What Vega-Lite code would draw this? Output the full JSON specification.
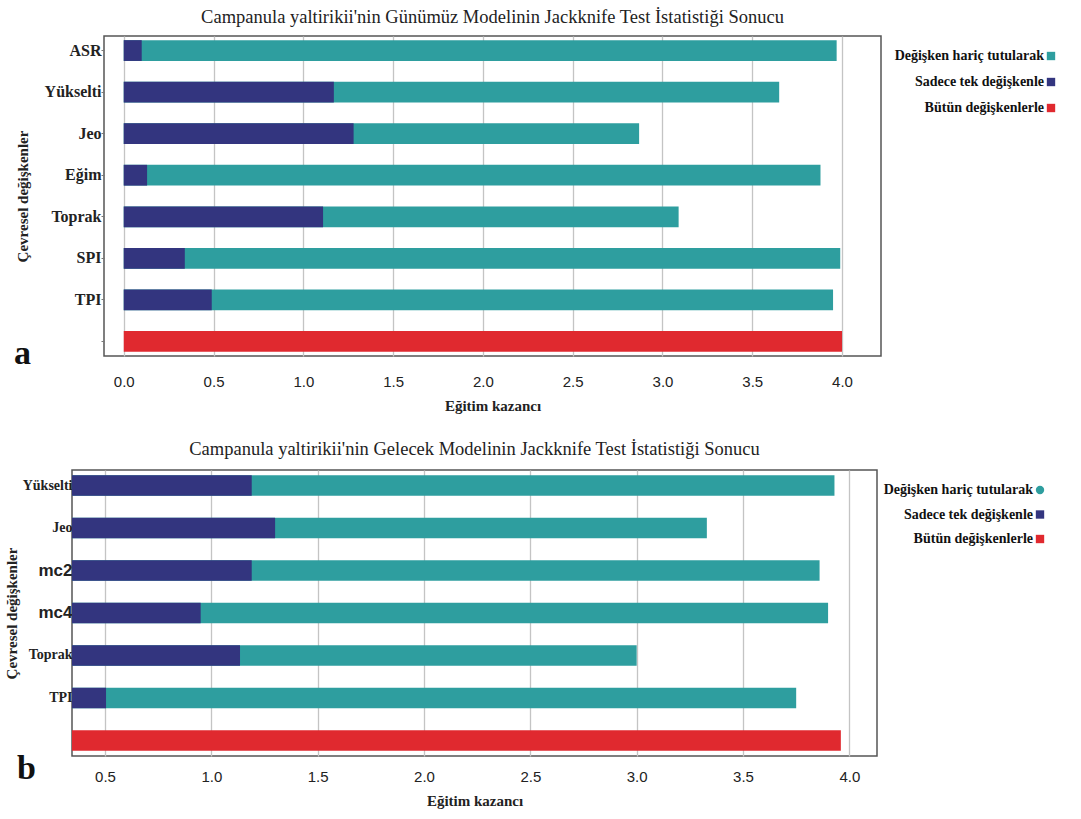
{
  "$schema": "https://vega.github.io/schema/vega-lite/v6.json",
  "background": "white",
  "padding": {"left": 0, "top": 6, "right": 5, "bottom": 5},
  "datasets": {
    "a": [
      {"degisken": "ASR", "seri": "Değişken hariç tutularak", "kazanc": 3.97},
      {"degisken": "Yükselti", "seri": "Değişken hariç tutularak", "kazanc": 3.65},
      {"degisken": "Jeo", "seri": "Değişken hariç tutularak", "kazanc": 2.87},
      {"degisken": "Eğim", "seri": "Değişken hariç tutularak", "kazanc": 3.88},
      {"degisken": "Toprak", "seri": "Değişken hariç tutularak", "kazanc": 3.09},
      {"degisken": "SPI", "seri": "Değişken hariç tutularak", "kazanc": 3.99},
      {"degisken": "TPI", "seri": "Değişken hariç tutularak", "kazanc": 3.95},
      {"degisken": "ASR", "seri": "Sadece tek değişkenle", "kazanc": 0.10},
      {"degisken": "Yükselti", "seri": "Sadece tek değişkenle", "kazanc": 1.17},
      {"degisken": "Jeo", "seri": "Sadece tek değişkenle", "kazanc": 1.28},
      {"degisken": "Eğim", "seri": "Sadece tek değişkenle", "kazanc": 0.13},
      {"degisken": "Toprak", "seri": "Sadece tek değişkenle", "kazanc": 1.11},
      {"degisken": "SPI", "seri": "Sadece tek değişkenle", "kazanc": 0.34},
      {"degisken": "TPI", "seri": "Sadece tek değişkenle", "kazanc": 0.49},
      {"degisken": "Tümü", "seri": "Bütün değişkenlerle", "kazanc": 4.0}
    ],
    "b": [
      {"degisken": "Yükselti", "seri": "Değişken hariç tutularak", "kazanc": 3.93},
      {"degisken": "Jeo", "seri": "Değişken hariç tutularak", "kazanc": 3.33},
      {"degisken": "mc2", "seri": "Değişken hariç tutularak", "kazanc": 3.86},
      {"degisken": "mc4", "seri": "Değişken hariç tutularak", "kazanc": 3.90},
      {"degisken": "Toprak", "seri": "Değişken hariç tutularak", "kazanc": 3.0},
      {"degisken": "TPI", "seri": "Değişken hariç tutularak", "kazanc": 3.75},
      {"degisken": "Yükselti", "seri": "Sadece tek değişkenle", "kazanc": 1.19},
      {"degisken": "Jeo", "seri": "Sadece tek değişkenle", "kazanc": 1.30},
      {"degisken": "mc2", "seri": "Sadece tek değişkenle", "kazanc": 1.19},
      {"degisken": "mc4", "seri": "Sadece tek değişkenle", "kazanc": 0.95},
      {"degisken": "Toprak", "seri": "Sadece tek değişkenle", "kazanc": 1.135},
      {"degisken": "TPI", "seri": "Sadece tek değişkenle", "kazanc": 0.505},
      {"degisken": "Tümü", "seri": "Bütün değişkenlerle", "kazanc": 3.96}
    ]
  },
  "config": {
    "view": {"stroke": "#555555", "strokeWidth": 1.5},
    "title": {"font": "Liberation Serif", "color": "#222222"},
    "axis": {"titleFont": "Liberation Serif", "titleFontWeight": "bold", "titleFontSize": 15, "titleColor": "#222222", "labelColor": "#222222"}
  },
  "spacing": 24,
  "resolve": {"scale": {"color": "independent", "x": "independent", "y": "independent"}, "legend": {"color": "independent"}},
  "vconcat": [
    {
      "title": {"text": "a", "orient": "bottom", "anchor": "start", "frame": "bounds", "offset": -77, "dx": 14, "fontSize": 34, "fontWeight": "bold", "font": "Liberation Serif", "color": "#111111"},
      "spacing": 0,
      "resolve": {"scale": {"color": "independent"}, "legend": {"color": "independent"}},
      "hconcat": [
        {
          "width": 12, "height": 1,
          "view": {"stroke": "transparent"},
          "data": {"values": [{}]},
          "mark": {"type": "rule", "opacity": 0},
          "encoding": {}
        },
        {
          "width": 777,
          "height": 320,
          "title": {"text": "Campanula yaltirikii'nin Günümüz Modelinin Jackknife Test İstatistiği Sonucu", "fontSize": 18.5, "fontWeight": "normal", "anchor": "middle", "offset": 10},
          "data": {"name": "a"},
          "mark": {"type": "bar", "clip": true},
          "encoding": {
            "y": {
              "field": "degisken", "type": "nominal",
              "sort": ["ASR", "Yükselti", "Jeo", "Eğim", "Toprak", "SPI", "TPI", "Tümü"],
              "scale": {"paddingInner": 0.5, "paddingOuter": 0.1},
              "axis": {"title": "Çevresel değişkenler", "labelExpr": "datum.value == 'Tümü' ? '' : datum.value", "labelFont": "Liberation Serif", "labelFontSize": 16, "labelFontWeight": "bold", "labelPadding": 0, "tickSize": 3, "tickColor": "#777777", "domain": false, "titlePadding": 14}
            },
            "x": {
              "field": "kazanc", "type": "quantitative", "stack": null,
              "scale": {"domain": [-0.11, 4.217], "nice": false, "zero": false},
              "axis": {"title": "Eğitim kazancı", "values": [0, 0.5, 1, 1.5, 2, 2.5, 3, 3.5, 4], "format": ".1f", "labelFont": "Liberation Sans", "labelFontSize": 15, "labelPadding": 18, "ticks": false, "domain": false, "grid": true, "gridColor": "#c4c4c4", "gridWidth": 1.3, "titlePadding": 9}
            },
            "color": {
              "field": "seri", "type": "nominal",
              "scale": {"domain": ["Değişken hariç tutularak", "Sadece tek değişkenle", "Bütün değişkenlerle"], "range": ["#2e9e9f", "#33357f", "#e0292f"]},
              "legend": {"title": null, "orient": "none", "legendX": 940, "legendY": 13, "symbolType": "square", "symbolSize": 70, "labelFont": "Liberation Serif", "labelFontSize": 14, "labelFontWeight": "bold", "labelColor": "#111111", "labelAlign": "right", "labelOffset": -14, "rowPadding": 12}
            }
          }
        }
      ]
    },
    {
      "title": {"text": "b", "orient": "bottom", "anchor": "start", "frame": "bounds", "offset": -57, "dx": 17, "fontSize": 34, "fontWeight": "bold", "font": "Liberation Serif", "color": "#111111"},
      "spacing": 0,
      "resolve": {"scale": {"color": "independent"}, "legend": {"color": "independent"}},
      "hconcat": [
        {
          "width": 1, "height": 1,
          "view": {"stroke": "transparent"},
          "data": {"values": [{}]},
          "mark": {"type": "rule", "opacity": 0},
          "encoding": {}
        },
        {
          "width": 805,
          "height": 286,
          "title": {"text": "Campanula yaltirikii'nin Gelecek Modelinin Jackknife Test İstatistiği Sonucu", "fontSize": 18.5, "fontWeight": "normal", "anchor": "middle", "offset": 12},
          "data": {"name": "b"},
          "mark": {"type": "bar", "clip": true},
          "encoding": {
            "y": {
              "field": "degisken", "type": "nominal",
              "sort": ["Yükselti", "Jeo", "mc2", "mc4", "Toprak", "TPI", "Tümü"],
              "scale": {"paddingInner": 0.52, "paddingOuter": 0.125},
              "axis": {"title": "Çevresel değişkenler", "labelExpr": "datum.value == 'Tümü' ? '' : datum.value", "labelFont": {"condition": {"test": "datum.value == 'mc2' || datum.value == 'mc4'", "value": "Liberation Sans"}, "value": "Liberation Serif"}, "labelFontSize": {"condition": {"test": "datum.value == 'mc2' || datum.value == 'mc4'", "value": 17}, "value": 14}, "labelFontWeight": "bold", "labelPadding": 0, "ticks": false, "domain": false, "titlePadding": 3}
            },
            "x": {
              "field": "kazanc", "type": "quantitative", "stack": null,
              "scale": {"domain": [0.345, 4.13], "nice": false, "zero": false},
              "axis": {"title": "Eğitim kazancı", "values": [0.5, 1, 1.5, 2, 2.5, 3, 3.5, 4], "format": ".1f", "labelFont": "Liberation Sans", "labelFontSize": 15, "labelPadding": 13, "ticks": false, "domain": false, "grid": true, "gridColor": "#c4c4c4", "gridWidth": 1.3, "titlePadding": 9}
            },
            "color": {
              "field": "seri", "type": "nominal",
              "scale": {"domain": ["Değişken hariç tutularak", "Sadece tek değişkenle", "Bütün değişkenlerle"], "range": ["#2e9e9f", "#33357f", "#e0292f"]},
              "legend": {"title": null, "orient": "none", "legendX": 961, "legendY": 13, "symbolType": "square", "symbolSize": 70, "labelFont": "Liberation Serif", "labelFontSize": 14, "labelFontWeight": "bold", "labelColor": "#111111", "labelAlign": "right", "labelOffset": -14, "rowPadding": 10.5,
                "encode": {"symbols": {"update": {"shape": {"signal": "datum.value == 'Değişken hariç tutularak' ? 'circle' : 'square'"}}}}}
            }
          }
        }
      ]
    }
  ]
}
